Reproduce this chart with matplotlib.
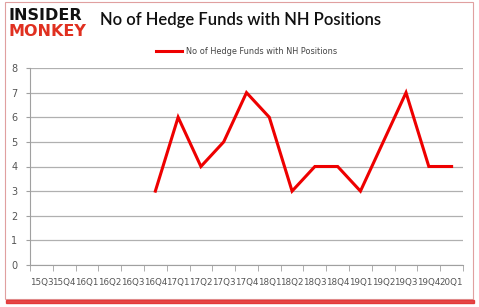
import matplotlib.pyplot as plt
from matplotlib.patches import Rectangle

quarters = ['15Q3', '15Q4', '16Q1', '16Q2', '16Q3', '16Q4', '17Q1', '17Q2',
            '17Q3', '17Q4', '18Q1', '18Q2', '18Q3', '18Q4', '19Q1', '19Q2',
            '19Q3', '19Q4', '20Q1']
# no data before 16Q4
funds = [None, None, None, None, None, 3, 6, 4, 5, 7, 6, 3, 4, 4, 3, 5, 7, 4, 4]
label = 'No of Hedge Funds with NH Positions'

fig = plt.figure(figsize=(4.79, 3.07), dpi=100)
ax = fig.add_axes([30 / 479, 1 - 265 / 307, 433 / 479, 197 / 307])

xs = [i for i, v in enumerate(funds) if v is not None]
ys = [v for v in funds if v is not None]
ax.plot(xs, ys, color='#ee0000', lw=2.2, label=label, solid_joinstyle='miter')

ax.set_xlim(-0.5, len(quarters) - 0.5)
ax.set_ylim(0, 8)
ax.set_yticks(range(0, 9))
ax.set_xticks(range(len(quarters)))
ax.set_xticklabels(quarters)
ax.set_xticks([i - 0.5 for i in range(len(quarters) + 1)], minor=True)
ax.grid(axis='y', color='#b0b0b0', lw=0.9)
ax.set_axisbelow(True)
for s in ['top', 'right']:
    ax.spines[s].set_visible(False)
ax.spines['left'].set_color('#a0a0a0')
ax.spines['bottom'].set_color('#a0a0a0')
ax.tick_params(axis='x', which='major', length=0, labelsize=6.3,
               colors='#555555', pad=9)
ax.tick_params(axis='x', which='minor', length=4, color='#a0a0a0',
               direction='out')
ax.tick_params(axis='y', length=3, color='#a0a0a0', labelsize=7,
               colors='#555555', pad=6)

ax.legend(loc='lower center', bbox_to_anchor=(0.5, 1.025), frameon=False,
          fontsize=5.9, handlelength=3.2, handletextpad=0.4,
          labelcolor='#444444')

fig.text(100 / 479, 1 - 20 / 307, 'No of Hedge Funds with NH Positions',
         fontsize=12, family='Lato', weight='semibold', va='center',
         ha='left', color='#111111')
fig.text(8 / 479, 1 - 15 / 307, 'INSIDER', fontsize=11.5, weight='heavy',
         va='center', ha='left', color='#111111')
fig.text(8 / 479, 1 - 31 / 307, 'MONKEY', fontsize=11.5, weight='heavy',
         va='center', ha='left', color='#e03020')

# frame around the card
fig.patches.append(Rectangle((5 / 479, 8 / 307), 468 / 479, 297 / 307,
                             transform=fig.transFigure, fill=False,
                             edgecolor='#e0a0a0', lw=0.8))
fig.patches.append(Rectangle((6 / 479, 4 / 307), 468 / 479, 3 / 307,
                             transform=fig.transFigure, color='#e02020',
                             alpha=0.8))

fig.savefig('out.png', dpi=100)
